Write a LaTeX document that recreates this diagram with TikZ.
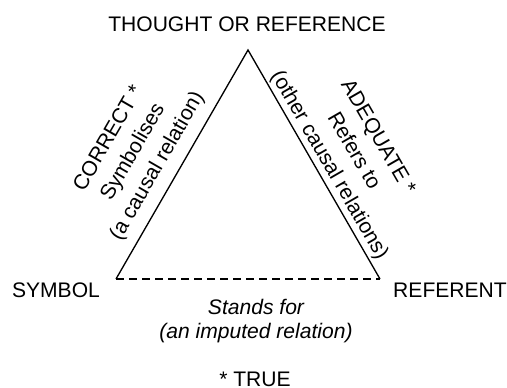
\documentclass[tikz,border=0pt]{standalone}
\usepackage{fontspec}
\setmainfont{Liberation Sans}
\tikzset{every picture/.style={line width=0.75pt}}
\tikzset{
  lbl/.style={inner sep=0pt, font=\fontsize{15.8pt}{21pt}\selectfont},
  sidelbl/.style={lbl, align=center, anchor=center},
}

\begin{document}
\begin{tikzpicture}[x=0.75pt,y=0.75pt,yscale=-1,xscale=1]
\useasboundingbox (0,0) rectangle (507,388);

% corners of the triangle
\coordinate (apex) at (248,50);
\coordinate (symv) at (116,279);
\coordinate (refv) at (380,279);

% Straight Lines
\draw [line width=1pt] (symv) -- (apex) -- (refv);
% Dashed Line
\draw [line width=1pt, dash pattern=on 6pt off 3.75pt] (symv) -- (refv);

% Text Node
\node (thought) at (247,32) [lbl, anchor=base] {THOUGHT OR REFERENCE};
% Text Node
\node (symbol) at (56,298) [lbl, anchor=base] {SYMBOL};
% Text Node
\node (referent) at (450,298) [lbl, anchor=base] {REFERENT};
% Text Node
\node (correct) at (133.5,152.5) [sidelbl, rotate=60] {CORRECT *\\Symbolises\\(a causal relation)};
% Text Node
\node (adequate) at (353,151.5) [sidelbl, rotate=-60] {ADEQUATE *\\Refers to\\(other causal relations)};
% Text Node
\node (stands) at (256,321) [lbl, align=center, font=\fontsize{15.8pt}{18.5pt}\selectfont\itshape] {Stands for\\(an imputed relation)};
% Text Node
\node (true) at (255,386) [lbl, anchor=base] {* TRUE};

\end{tikzpicture}
\end{document}
